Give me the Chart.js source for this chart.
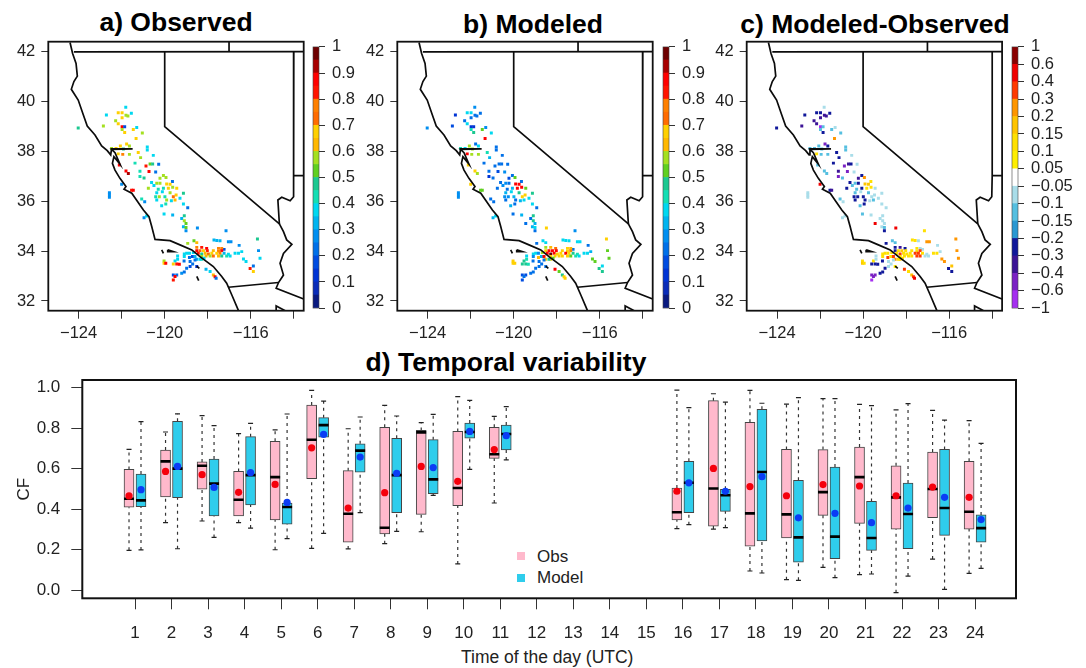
<!DOCTYPE html>
<html>
<head>
<meta charset="utf-8">
<title>CF maps and temporal variability</title>
<script src="https://cdn.jsdelivr.net/npm/chart.js@4"></script>
<style>
  html, body { margin: 0; padding: 0; background: #fff; overflow: hidden; }
  body { width: 1086px; height: 668px; position: relative; font-family: "Liberation Sans", Arial, sans-serif; color: #111; }
  canvas { position: absolute; }
  .title { position: absolute; font-weight: bold; font-size: 26.5px; line-height: 30px; white-space: nowrap; transform: translateX(-50%); color: #000; }
  .txt { position: absolute; font-size: 17px; line-height: 20px; white-space: nowrap; color: #222; }
  .swatch { position: absolute; width: 8px; height: 8px; }
</style>
</head>
<body>
<div class="title" style="left:176px;top:7px">a) Observed</div>
<div class="title" style="left:533px;top:9px">b) Modeled</div>
<div class="title" style="left:875px;top:9px">c) Modeled-Observed</div>
<div class="title" style="left:506px;top:347px">d) Temporal variability</div>
<div class="txt" style="left:461px;top:647px;font-size:17.5px">Time of the day (UTC)</div>
<div class="swatch" style="left:517px;top:552px;background:#ffb9cc"></div>
<div class="txt" style="left:537px;top:547px">Obs</div>
<div class="swatch" style="left:517px;top:574px;background:#2fcdec"></div>
<div class="txt" style="left:537px;top:568px">Model</div>

<canvas id="mapA" width="320" height="345" style="left:0;top:0"></canvas>
<canvas id="barA" width="80" height="295" style="left:312px;top:30px"></canvas>
<canvas id="mapB" width="320" height="345" style="left:350px;top:0"></canvas>
<canvas id="barB" width="80" height="295" style="left:662px;top:30px"></canvas>
<canvas id="mapC" width="320" height="345" style="left:700px;top:0"></canvas>
<canvas id="barC" width="80" height="295" style="left:1011px;top:30px"></canvas>
<canvas id="boxD" width="1086" height="323" style="left:0;top:345px"></canvas>

<script>
// Site positions
const siteLon = [
  -121.81,-122.71,-121.55,-122.16,-121.98,-121.80,-121.98,-121.71,-122.28,-122.85,
  -122.16,-121.98,-121.86,-124.02,-121.30,-121.46,-121.98,-121.86,-121.04,-121.33,
  -121.77,-122.06,-121.64,-120.81,-120.81,-122.47,-122.26,-121.92,-121.64,-121.23,
  -120.53,-122.16,-121.95,-121.12,-121.38,-122.11,-120.87,-120.68,-120.56,-120.28,
  -121.80,-121.69,-121.15,-121.15,-120.73,-120.42,-120.96,-122.00,-120.06,-120.22,
  -119.94,-119.64,-120.61,-120.37,-120.22,-119.91,-119.75,-120.50,-120.76,-120.06,
  -119.83,-119.63,-120.30,-121.54,-121.46,-119.44,-120.11,-120.37,-119.75,-119.47,
  -119.13,-120.42,-120.25,-119.99,-119.60,-119.91,-119.52,-119.29,-120.37,-122.57,
  -122.57,-122.57,-121.07,-120.93,-119.95,-120.14,-119.69,-119.13,-118.93,-120.03,
  -119.63,-120.96,-120.84,-119.21,-119.09,-119.09,-119.01,-119.13,-119.01,-119.01,
  -118.48,-117.15,-118.93,-118.64,-118.51,-117.71,-117.58,-117.43,-117.04,-116.92,
  -115.69,-116.54,-117.24,-115.64,-116.42,-116.73,-116.57,-118.51,-118.28,-118.05,
  -117.50,-117.35,-118.51,-118.36,-118.20,-118.02,-117.74,-117.50,-117.35,-118.44,
  -118.28,-118.12,-117.97,-117.81,-117.58,-117.43,-117.24,-117.04,-118.28,-118.08,
  -117.89,-117.74,-117.50,-117.35,-117.12,-116.96,-118.28,-120.03,-120.03,-119.95,
  -119.52,-119.40,-119.40,-119.60,-119.44,-119.32,-119.09,-118.98,-118.85,-118.67,
  -119.09,-118.85,-118.71,-118.59,-118.51,-118.36,-118.17,-119.10,-118.82,-118.59,
  -118.70,-118.82,-118.98,-118.51,-119.09,-119.21,-119.44,-119.60,-118.08,-117.89,
  -117.74,-117.66,-117.61,-119.52,-119.60,-115.88,-116.03,-115.88,-116.34,-116.22,
  -115.57,-119.44
];
const siteLat = [
  39.77,39.46,39.53,39.55,39.55,39.45,39.35,39.42,39.23,39.02,
  39.11,38.99,38.99,38.94,38.96,38.88,38.88,38.76,38.74,38.52,
  38.30,38.22,38.22,38.18,38.06,38.12,38.12,38.10,37.88,37.96,
  37.84,37.90,37.88,37.75,37.53,37.45,37.41,37.49,37.49,37.48,
  37.21,37.11,37.20,36.99,37.19,37.17,36.93,36.68,37.03,36.92,
  36.95,36.79,36.75,36.72,36.72,36.69,36.68,36.63,36.52,36.52,
  36.52,36.56,36.48,36.44,36.44,36.52,36.38,36.34,36.34,36.25,
  36.32,36.18,36.18,36.18,36.18,36.05,36.05,36.12,36.05,36.34,
  36.25,36.16,36.09,35.98,35.89,35.82,36.02,35.89,35.74,35.49,
  35.45,35.34,35.41,35.31,35.42,35.22,35.11,34.98,34.95,34.82,
  34.93,34.82,34.31,34.42,34.34,34.45,34.43,34.42,34.38,34.38,
  34.49,34.23,34.07,34.02,33.98,33.91,33.91,34.15,34.15,34.11,
  34.11,34.11,34.02,34.02,34.02,34.02,34.02,34.00,34.02,33.91,
  33.88,33.91,33.88,33.91,33.91,33.91,33.91,33.87,33.78,33.80,
  33.80,33.80,33.80,33.80,33.80,33.80,33.67,33.60,33.51,33.51,
  33.60,33.80,33.67,33.48,33.48,33.47,33.88,33.91,33.91,33.94,
  33.78,33.74,33.78,33.78,33.67,33.67,33.71,33.60,33.58,33.64,
  33.48,33.38,33.31,33.38,33.16,33.11,33.04,33.04,33.27,33.18,
  33.04,32.97,32.91,32.98,32.84,33.40,33.30,33.18,33.68,33.58,
  33.71,35.11
];
// Site values for each map
const obsCF = [
  .35,.35,.35,.65,.65,.55,.65,.55,.55,.55,
  .65,.85,.15,.45,.35,.65,.55,.65,.55,.65,
  .65,.65,.55,.35,.35,.55,.65,.45,.55,.65,
  .35,.65,.75,.55,.4,.85,.8,.5,.45,.2,
  .85,.9,.4,.4,.85,.2,.45,.25,.55,.55,
  .55,.2,.35,.55,.55,.65,.65,.35,.55,.4,
  .65,.55,.4,.8,.85,.65,.35,.35,.55,.65,
  .45,.4,.55,.4,.7,.55,.6,.35,.35,.25,
  .25,.25,.4,.25,.4,.35,.35,.35,.2,.35,
  .3,.25,.35,.3,.45,.55,.5,.3,.5,.25,
  .25,.25,.55,.5,.6,.3,.3,.3,.25,.25,
  .45,.25,.15,.25,.35,.35,.35,.75,.8,.85,
  .75,.75,.85,.7,.65,.8,.6,.75,.85,.8,
  .45,.6,.7,.65,.65,.75,.3,.35,.55,.6,
  .55,.7,.6,.45,.4,.35,.4,.55,.65,.85,
  .35,.35,.35,.65,.8,.85,.35,.35,.35,.35,
  .35,.2,.15,.3,.3,.35,.35,.2,.2,.2,
  .2,.15,.2,.1,.2,.25,.2,.15,.3,.35,
  .6,.85,.2,.85,.8,.2,.8,.65,.35,.35,
  .35,null
];
const modelCF = [
  .25,.1,.2,.35,.35,.2,.2,.2,.2,.15,
  .35,.1,.1,.25,.25,.5,.4,.45,.35,.85,
  .2,.55,.35,.2,.2,.4,.35,.55,.55,.4,
  .2,.85,.55,.3,.2,.65,.2,.2,.2,.2,
  .65,.55,.2,.1,.15,.25,.2,.65,.2,.15,
  .5,.2,.2,.25,.2,.85,.85,.25,.2,.3,
  .85,.85,.2,.5,.5,.5,.35,.3,.45,.65,
  .45,.25,.25,.3,.65,.2,.35,.35,.2,.25,
  .25,.25,.2,.2,.2,.3,.3,.35,.2,.2,
  .3,.3,.35,.2,.45,.45,.3,.3,.35,.2,
  .65,.25,.2,.35,.35,.35,.35,.35,.35,.35,
  .65,.2,.2,.5,.3,.35,.35,.55,.6,.7,
  .65,.6,.65,.85,.85,.85,.65,.65,.75,.85,
  .95,.85,.65,.65,.85,.65,.45,.4,.65,.65,
  .65,.65,.65,.5,.4,.35,.65,.65,.65,.65,
  .45,.35,.4,.45,.45,.4,.35,.35,.25,.55,
  .25,.6,.3,.85,.65,.45,.5,.2,.2,.2,
  .2,.2,.2,.2,.2,.2,.15,.15,.85,.5,
  .45,.65,.65,.2,.15,.35,.45,.45,.5,.5,
  .5,.2
];
const diffCF = [
  -.08,-.3,-.25,-.3,-.3,-.35,-.35,-.35,-.35,-.35,
  -.35,-.7,-.12,-.25,-.08,-.12,-.12,-.25,-.12,.25,
  -.45,-.12,-.3,-.12,-.12,-.12,-.12,-.12,-.12,-.25,
  -.08,.12,-.12,-.25,-.25,-.12,-.5,-.35,-.3,-.08,
  -.12,-.12,-.35,-.5,-.6,-.08,-.12,.45,-.3,-.35,
  .2,.12,-.25,-.12,-.3,.15,.18,-.12,-.3,-.25,
  .12,.12,-.12,-.3,-.35,-.08,-.08,-.12,-.12,-.08,
  -.08,-.25,-.25,-.25,-.08,-.25,-.12,-.08,-.25,-.08,
  -.08,-.08,-.12,-.08,-.25,-.12,-.08,-.08,-.08,-.15,
  -.08,-.08,-.08,-.08,-.08,-.08,-.08,-.08,-.12,-.25,
  .45,.1,-.25,-.12,-.12,.12,.12,-.08,.25,.25,
  .25,-.08,-.08,.25,-.07,.12,.12,-.3,-.35,-.3,
  .12,-.1,-.25,.12,.15,.1,.12,.12,.35,.12,
  .35,.12,.12,.12,.35,.35,.12,-.08,.12,.12,
  .12,.12,.35,.35,-.08,-.08,.15,.12,.15,.12,
  .12,-.08,-.08,-.3,-.3,-.3,.1,.1,.12,.12,
  .12,.35,.12,.35,.2,.12,.12,-.25,-.08,-.08,
  -.08,-.08,-.25,.05,-.25,-.25,-.45,-.6,.35,.12,
  .15,.35,.4,-.6,-.7,.15,-.25,-.25,.25,.25,
  .25,.45
];

// Outlines as [lon, lat]
const coast = [[-124.40,42.37],[-124.28,41.93],[-124.12,41.53],[-124.06,41.02],[-124.22,40.80],[-124.34,40.49],[-124.02,40.06],[-123.78,39.46],[-123.60,39.02],[-123.24,38.66],[-122.93,38.22],[-122.67,38.03],[-122.51,37.86],[-122.47,38.10],[-121.49,38.10],[-122.47,38.08],[-122.31,37.95],[-122.08,37.49],[-122.36,37.79],[-122.43,37.52],[-122.31,37.25],[-122.08,36.92],[-121.80,36.59],[-121.89,36.48],[-121.53,36.32],[-120.99,35.65],[-120.73,35.38],[-120.60,34.98],[-120.45,34.47],[-119.75,34.42],[-119.29,34.25],[-118.74,34.05],[-118.36,33.78],[-117.74,33.38],[-117.35,32.98],[-117.12,32.71],[-116.88,32.24],[-116.57,31.61]];
const oregonLine = [[-124.22,41.99],[-113.4,42.0]];
const idahoLine = [[-117.01,42.4],[-117.01,42.0]];
const nevadaWest = [[-120.0,42.0],[-120.0,38.99],[-114.67,35.09]];
const nevadaEast = [[-114.0,42.0],[-114.0,37.03],[-114.02,36.18],[-114.17,36.02],[-114.56,36.16],[-114.74,36.05],[-114.67,35.09]];
const utahLine = [[-114.0,37.03],[-113.4,37.03]];
const riverLine = [[-114.67,35.09],[-114.48,34.78],[-114.33,34.45],[-114.09,34.27],[-114.48,33.91],[-114.64,33.51],[-114.48,33.04],[-114.71,32.74],[-114.82,32.51],[-113.4,32.03]];
const mexicoLine = [[-117.04,32.55],[-114.71,32.74]];
const gulfLine = [[-114.82,31.61],[-114.82,31.80],[-114.40,31.61]];
const island1 = [[-120.14,34.05],[-120.06,33.91]];
const island2 = [[-119.86,34.05],[-119.60,33.98],[-119.86,33.98],[-119.86,34.05]];
const island3 = [[-118.51,33.40],[-118.39,33.31]];
const island4 = [[-118.51,32.99],[-118.42,32.82]];
const outlines = [coast, oregonLine, idahoLine, nevadaWest, nevadaEast, utahLine, riverLine, mexicoLine, gulfLine, island1, island2, island3, island4];

const lonTicks = [-124, -122, -120, -118, -116, -114];
const lonLabelled = [-124, -120, -116];
const latTicks = [32, 34, 36, 38, 40, 42];

// Colour bars
const cfTicks = [0, .1, .2, .3, .4, .5, .6, .7, .8, .9, 1];
const cfColors = [
  '#0a1a80','#0a2cb8','#0034d4','#004ce0','#0070e8','#008ef0','#00b4f0','#00d8f0','#14deb4','#1cc890',
  '#60d020','#a4e020','#ffb800','#ffd000','#ff6c00','#ff8000','#ff1400','#ff0000','#a80000','#6e0000'
];
const diffLevels = [-1, -.6, -.4, -.3, -.2, -.15, -.1, -.05, .05, .1, .15, .2, .3, .4, .6, 1];
const diffLabels = ['\u22121','\u22120.6','\u22120.4','\u22120.3','\u22120.2','\u22120.15','\u22120.1','\u22120.05','0.05','0.1','0.15','0.2','0.3','0.4','0.6','1'];
const diffColors = ['#a52ff0','#7b22c4','#3c1496','#10189a','#2a98d2','#55bfe0','#a9dde9','#ffffff','#ffee00','#ffe000','#ffc400','#ff9600','#ff3a00','#f00000','#8a0000'];

// Box plot values per hour, hours 12-15 have no data
const hours = [1,2,3,4,5,6,7,8,9,10,11,16,17,18,19,20,21,22,23,24];
const hourTicks = [1,2,3,4,5,6,7,8,9,10,11,12,13,14,15,16,17,18,19,20,21,22,23,24];
const cfAxisTicks = [0, .2, .4, .6, .8, 1];
const obsLow  = [.196,.333,.341,.333,.199,.206,.203,.229,.288,.129,.430,.303,.301,.094,.051,.112,.076,-.013,.153,.082];
const obsQ1   = [.409,.460,.498,.366,.346,.550,.237,.277,.374,.417,.651,.346,.316,.217,.257,.369,.329,.301,.357,.301];
const obsMed  = [.451,.636,.614,.446,.558,.743,.377,.308,.779,.504,.671,.384,.502,.379,.374,.484,.558,.458,.499,.387];
const obsQ3   = [.596,.692,.633,.586,.735,.914,.590,.804,.789,.784,.804,.504,.936,.829,.695,.694,.707,.614,.682,.636];
const obsHigh = [.695,.781,.862,.773,.791,.987,.797,.913,.827,.956,.858,.988,.970,.987,.919,.946,.918,.890,.888,.837];
const obsMean = [.465,.586,.570,.483,.522,.703,.405,.481,.611,.537,.694,.488,.601,.511,.466,.521,.514,.466,.509,.458];
const modLow  = [.198,.204,.260,.306,.254,.280,.382,.290,.468,.596,.643,.323,.308,.084,.048,.061,.079,.069,.003,.107];
const modQ1   = [.412,.456,.366,.420,.326,.755,.582,.382,.476,.750,.692,.382,.389,.242,.138,.155,.196,.204,.270,.237];
const modMed  = [.443,.600,.526,.568,.410,.815,.689,.568,.547,.781,.771,.530,.468,.583,.260,.264,.257,.376,.405,.306];
const modQ3   = [.573,.834,.647,.758,.430,.852,.723,.750,.743,.825,.815,.636,.498,.893,.542,.608,.438,.529,.695,.371];
const modHigh = [.832,.871,.812,.824,.870,.934,.855,.860,.868,.937,.906,.901,.929,.923,.951,.946,.911,.921,.840,.725];
const modMean = [.496,.611,.507,.580,.433,.769,.657,.577,.605,.784,.763,.530,.488,.560,.357,.379,.333,.405,.458,.348];

const fontFamily = '"Liberation Sans", Arial, sans-serif';
const tickFont = { family: fontFamily, size: 16.5 };
const boxFont = { family: fontFamily, size: 17 };
const textColor = '#222';
const lineColor = '#333';

Chart.defaults.animation = false;
Chart.defaults.responsive = false;
Chart.defaults.events = [];
Chart.defaults.plugins.legend.display = false;
Chart.defaults.plugins.tooltip.enabled = false;

// Closed box around the plot area
function framePlugin(width, color) {
  return {
    id: 'frame',
    afterDraw(chart) {
      const a = chart.chartArea;
      const ctx = chart.ctx;
      ctx.save();
      ctx.lineWidth = width;
      ctx.strokeStyle = color;
      ctx.strokeRect(a.left, a.top, a.right - a.left, a.bottom - a.top);
      ctx.restore();
    },
  };
}

function cfColor(v) {
  return cfColors[Math.min(cfColors.length - 1, Math.floor(v * cfColors.length))];
}

function diffColor(v) {
  let i = 0;
  while (i < diffColors.length - 1 && v >= diffLevels[i + 1]) i++;
  return diffColors[i];
}

function drawMap(id, values, colorOf, padLeft) {
  const shown = [];
  values.forEach((v, i) => {
    if (v !== null) shown.push({ x: siteLon[i], y: siteLat[i], v: v });
  });
  const datasets = outlines.map((line) => ({
    data: line.map((p) => ({ x: p[0], y: p[1] })),
    showLine: true,
    borderColor: '#0c0c0c',
    borderWidth: 1.7,
    pointRadius: 0,
  }));
  datasets.push({
    data: shown,
    pointStyle: 'rect',
    pointRadius: 2.1,
    pointBorderWidth: 0,
    pointBackgroundColor: shown.map((p) => colorOf(p.v)),
  });
  new Chart(document.getElementById(id), {
    type: 'scatter',
    data: { datasets: datasets },
    options: {
      layout: { padding: { left: 0, top: 41.7, right: 320 - (padLeft + 255.4), bottom: 0 } },
      scales: {
        x: {
          min: -125.41, max: -113.54,
          afterBuildTicks(s) { s.ticks = lonTicks.map((v) => ({ value: v })); },
          afterFit(s) { s.height = 34.3; },
          grid: { drawOnChartArea: false, tickLength: 8, color: lineColor },
          border: { display: false },
          ticks: {
            font: tickFont, color: textColor, padding: 5, maxRotation: 0, autoSkip: false,
            callback: (v) => (lonLabelled.includes(v) ? '\u2212' + Math.abs(v) : ''),
          },
        },
        y: {
          min: 31.61, max: 42.4,
          afterBuildTicks(s) { s.ticks = latTicks.map((v) => ({ value: v })); },
          afterFit(s) { s.width = padLeft; },
          grid: { drawOnChartArea: false, tickLength: 7, color: lineColor },
          border: { display: false },
          ticks: { font: tickFont, color: textColor, padding: 6, autoSkip: false, callback: (v) => String(v) },
        },
      },
    },
    plugins: [framePlugin(1.8, '#111')],
  });
}

function drawColorBar(id, colors, sizes, yMin, yMax, ticks, labelOf) {
  new Chart(document.getElementById(id), {
    type: 'bar',
    data: {
      labels: ['cf'],
      datasets: colors.map((c, i) => ({
        data: [sizes[i]],
        backgroundColor: c,
        borderWidth: 0,
        barPercentage: 1,
        categoryPercentage: 1,
      })),
    },
    options: {
      layout: { padding: { left: 1, right: 13, top: 11.7, bottom: 14.3 } },
      scales: {
        x: { stacked: true, display: false },
        y: {
          stacked: true, position: 'right', min: yMin, max: yMax,
          afterBuildTicks(s) { s.ticks = ticks.map((v) => ({ value: v })); },
          afterFit(s) { s.width = 60; },
          grid: { drawOnChartArea: false, tickLength: 6, color: lineColor },
          border: { display: false },
          ticks: { font: tickFont, color: textColor, padding: 7, autoSkip: false, callback: labelOf },
        },
      },
    },
    plugins: [framePlugin(0.6, '#444')],
  });
}

drawMap('mapA', obsCF, cfColor, 48.3);
drawMap('mapB', modelCF, cfColor, 47.3);
drawMap('mapC', diffCF, diffColor, 46.7);

const cfSizes = cfColors.map(() => 1 / cfColors.length);
drawColorBar('barA', cfColors, cfSizes, 0, 1, cfTicks, (v) => String(v));
drawColorBar('barB', cfColors, cfSizes, 0, 1, cfTicks, (v) => String(v));
// panel c has unequal classes drawn with equal height, so the axis runs on the class index
const diffIndex = diffLabels.map((l, i) => i);
drawColorBar('barC', diffColors, diffColors.map(() => 1), 0, diffColors.length, diffIndex, (v) => diffLabels[v]);

// Temporal variability boxes
const shift = 0.164;

function boxSets(offset, low, q1, med, q3, high, mean, fill, dot) {
  const xs = hours.map((h) => h + offset);
  const whisker = [];
  const caps = [];
  xs.forEach((x, i) => {
    whisker.push({ x: x, y: low[i] }, { x: x, y: q1[i] }, { x: x, y: null });
    whisker.push({ x: x, y: q3[i] }, { x: x, y: high[i] }, { x: x, y: null });
    caps.push({ x: x, y: low[i] }, { x: x, y: high[i] });
  });
  return {
    top: [
      { type: 'scatter', data: xs.map((x, i) => ({ x: x, y: mean[i] })), pointRadius: 3.6, pointBackgroundColor: dot, pointBorderWidth: 0 },
      { type: 'scatter', data: xs.map((x, i) => ({ x: x, y: med[i] })), pointStyle: 'line', pointRadius: 5, pointBorderColor: '#000', pointBorderWidth: 2.6 },
    ],
    bottom: [
      { type: 'bar', data: xs.map((x, i) => ({ x: x, y: [q1[i], q3[i]] })), backgroundColor: fill, borderColor: '#444', borderWidth: 1, borderSkipped: false, barThickness: 10, grouped: false },
      { type: 'scatter', data: caps, pointStyle: 'line', pointRadius: 2.5, pointBorderColor: '#222', pointBorderWidth: 1.2 },
      { type: 'scatter', data: whisker, showLine: true, borderColor: '#333', borderWidth: 1.2, borderDash: [3, 4], pointRadius: 0, spanGaps: false },
    ],
  };
}

const obsSets = boxSets(-shift, obsLow, obsQ1, obsMed, obsQ3, obsHigh, obsMean, '#ffb9cc', '#f5000c');
const modSets = boxSets(shift, modLow, modQ1, modMed, modQ3, modHigh, modMean, '#2fcdec', '#0a3cf5');

new Chart(document.getElementById('boxD'), {
  type: 'bar',
  data: { datasets: [...obsSets.top, ...modSets.top, ...obsSets.bottom, ...modSets.bottom] },
  options: {
    layout: { padding: { left: 0, top: 35, right: 70, bottom: 0 } },
    scales: {
      x: {
        type: 'linear', offset: false, min: -0.443, max: 25.12,
        afterBuildTicks(s) { s.ticks = hourTicks.map((v) => ({ value: v })); },
        afterFit(s) { s.height = 69.7; },
        grid: { offset: false, drawOnChartArea: false, tickLength: 11, color: lineColor },
        border: { display: false },
        ticks: { font: boxFont, color: textColor, padding: 14, maxRotation: 0, autoSkip: false, callback: (v) => String(v) },
      },
      y: {
        beginAtZero: false, min: -0.041, max: 1.038,
        afterBuildTicks(s) { s.ticks = cfAxisTicks.map((v) => ({ value: v })); },
        afterFit(s) { s.width = 82.3; },
        grid: { drawOnChartArea: false, tickLength: 11, color: lineColor },
        border: { display: false },
        title: { display: true, text: 'CF', font: boxFont, color: textColor, padding: { top: 14, bottom: 0 } },
        ticks: { font: boxFont, color: textColor, padding: 11, autoSkip: false, callback: (v) => v.toFixed(1) },
      },
    },
  },
  plugins: [framePlugin(2, '#111')],
});
</script>
</body>
</html>
